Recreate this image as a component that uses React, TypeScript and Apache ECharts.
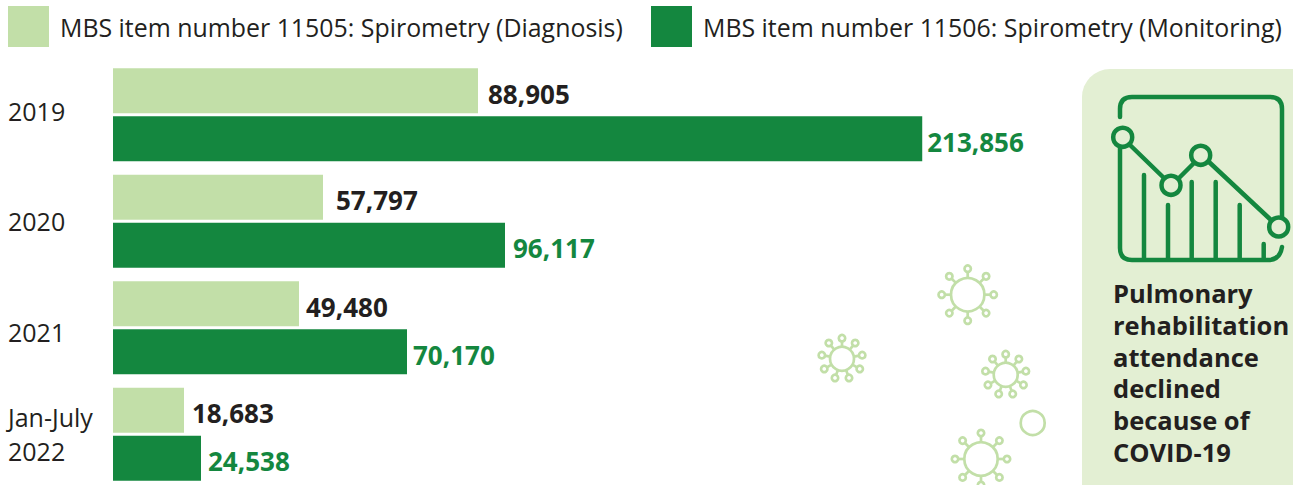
import React, { useEffect, useRef } from "react";
import * as echarts from "echarts";

const categories = ["2019", "2020", "2021", "Jan-July\n2022"];
const categoryStyles = ["up", "plain", "down", "plain"];
const diagnosisName = "MBS item number 11505: Spirometry (Diagnosis)";
const monitoringName = "MBS item number 11506: Spirometry (Monitoring)";
// The numbers printed beside the bars in the reference.
const diagnosisPrinted = [88905, 57797, 49480, 18683];
const monitoringPrinted = [213856, 96117, 70170, 24538];
// Bar lengths: the reference does not draw its bars
// strictly in proportion to the printed numbers, so both are kept.
const diagnosisLengths = [96459, 55497, 49154, 18763];
const monitoringLengths = [213856, 103594, 77696, 23256];
const panelLines = ["Pulmonary", "rehabilitation", "attendance", "declined", "because of", "COVID-19"];

const LIGHT = "#c2dfa8";
const DARK = "#14873f";
const INK = "#231f20";
const FONT = "Open Sans";

const ICON =
  "M1120 117V109Q1120 97 1132 97H1270Q1282 97 1282 109V217" +
  "M1120 148V248Q1120 260 1132 260H1268Q1280 260 1282 247" +
  "M1144 175V260M1168 205V260M1191.7 182V260M1215.7 182V260M1239.7 205V260M1263.7 244V260" +
  "M1130 145L1164 178M1179 178L1193 164M1209 162L1271 220";
echarts.graphic.registerShape("icon", echarts.graphic.extendPath(ICON as any, {}) as any);

function virus(cx: number, cy: number, r: number, spikes: number, knob: number, start: number) {
  const out: any[] = [];
  const style = { stroke: LIGHT, fill: "none", lineWidth: 2.7 };
  out.push({ type: "circle", shape: { cx, cy, r }, style, silent: true });
  for (let i = 0; i < spikes; i++) {
    const a = start + (i * 2 * Math.PI) / spikes;
    const c = Math.cos(a);
    const s = Math.sin(a);
    out.push({
      type: "line",
      shape: { x1: cx + r * c, y1: cy + r * s, x2: cx + (knob - 3) * c, y2: cy + (knob - 3) * s },
      style: { stroke: LIGHT, lineWidth: 2.7 },
      silent: true,
    });
    out.push({
      type: "circle",
      shape: { cx: cx + knob * c, cy: cy + knob * s, r: 3.2 },
      style,
      silent: true,
    });
  }
  return out;
}

export default function App() {
  const ref = useRef<HTMLDivElement>(null);
  useEffect(() => {
    const chart = echarts.init(ref.current!, undefined, { renderer: "svg" });
    const iconStyle = { stroke: DARK, fill: "none", lineWidth: 4.5, lineCap: "round" };
    const legendBase = {
      top: 6,
      itemWidth: 41,
      itemHeight: 41,
      itemGap: 0,
      icon: "rect",
      textStyle: { fontFamily: FONT, fontSize: 24.9, color: INK, padding: [11, 0, 0, 6] },
      selectedMode: false,
      padding: 0,
    };
    const labelGaps = [[10, 5], [13, 8], [7, 6], [8, 7]];
    const labelled = (lengths: number[], printed: number[], col: number) =>
      lengths.map((value, i) => ({
        value,
        label: {
          offset: [labelGaps[i][col], 3],
          formatter: printed[i].toLocaleString("en-US"),
        },
      }));
    const barLabel = (color: string) => ({
      show: true,
      position: "right" as const,
      distance: 0,
      fontFamily: FONT,
      fontWeight: 700,
      fontSize: 26,
      color,
    });
    const categoryFont = { fontFamily: FONT, fontSize: 25, lineHeight: 34, color: INK };
    chart.setOption({
      animation: false,
      legend: [
        { ...legendBase, left: 8, data: [diagnosisName] },
        { ...legendBase, left: 651, data: [monitoringName] },
      ],
      grid: { left: 113, top: 61.5, width: 946, height: 426, containLabel: false, outerBoundsMode: "none" },
      xAxis: { type: "value", min: 0, max: 250000, show: false },
      yAxis: {
        type: "category",
        inverse: true,
        data: categories,
        axisLine: { show: false },
        axisTick: { show: false },
        axisLabel: {
          align: "left",
          margin: 105,
          ...categoryFont,
          formatter: (value: string, index: number) =>
            value
              .split("\n")
              .map((line) => `{${categoryStyles[index]}|${line}}`)
              .join("\n"),
          rich: {
            plain: { ...categoryFont },
            up: { ...categoryFont, padding: [0, 0, 7, 0] },
            down: { ...categoryFont, padding: [9, 0, 0, 0] },
          },
        },
      },
      series: [
        {
          name: diagnosisName,
          type: "bar",
          data: labelled(diagnosisLengths, diagnosisPrinted, 0),
          barWidth: 45,
          barGap: "7%",
          itemStyle: { color: LIGHT },
          label: barLabel(INK),
        },
        {
          name: monitoringName,
          type: "bar",
          data: labelled(monitoringLengths, monitoringPrinted, 1),
          barWidth: 45,
          itemStyle: { color: DARK },
          label: barLabel(DARK),
        },
      ],
      graphic: [
        {
          type: "rect",
          shape: { x: 1082, y: 69, width: 260, height: 460, r: 28 },
          style: { fill: "#e3efd3" },
          silent: true,
        },
        { type: "icon", x: 0, y: 0, style: iconStyle, silent: true },
        { type: "circle", shape: { cx: 1122.7, cy: 137.3, r: 9.5 }, style: iconStyle, silent: true },
        { type: "circle", shape: { cx: 1171, cy: 185.3, r: 9.5 }, style: iconStyle, silent: true },
        { type: "circle", shape: { cx: 1200.7, cy: 155.3, r: 9.5 }, style: iconStyle, silent: true },
        { type: "circle", shape: { cx: 1278.7, cy: 227, r: 9.5 }, style: iconStyle, silent: true },
        {
          type: "text",
          x: 1113,
          y: 277,
          style: {
            text: panelLines.join("\n"),
            fontFamily: FONT,
            fontWeight: 700,
            fontSize: 25.5,
            lineHeight: 31.8,
            fill: INK,
          },
          silent: true,
        },
        ...virus(967.7, 294.7, 16.7, 8, 26, 0),
        ...virus(842, 358.7, 12, 9, 20.5, -Math.PI / 2),
        ...virus(1005.7, 374.7, 12, 9, 20.5, -Math.PI / 2),
        ...virus(981, 459, 16.7, 8, 26, 0),
        {
          type: "circle",
          shape: { cx: 1032.7, cy: 423, r: 12 },
          style: { stroke: LIGHT, fill: "none", lineWidth: 2.7 },
          silent: true,
        },
      ],
    });
    return () => chart.dispose();
  }, []);
  return <div ref={ref} style={{ position: "absolute", left: 0, top: 0, width: 1293, height: 485, overflow: "hidden" }} />;
}
